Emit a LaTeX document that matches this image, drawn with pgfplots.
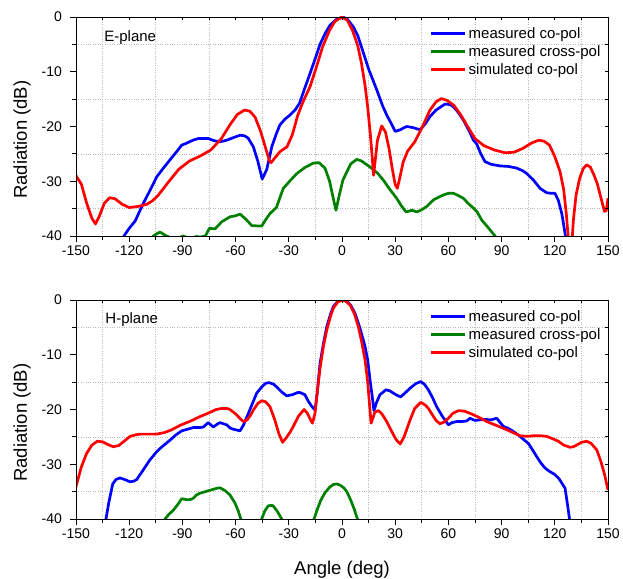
\documentclass[border=0pt]{standalone}
\usepackage{fontspec}
\setmainfont{Liberation Sans}
\usepackage{pgfplots}
\pgfplotsset{compat=1.18}
\definecolor{cblue}{RGB}{0,0,255}
\definecolor{cgreen}{RGB}{0,128,0}
\definecolor{cred}{RGB}{255,0,0}
\pgfplotsset{
  radbase/.style={
    scale only axis, width=532pt, height=219pt,
    xmin=-150, xmax=150, ymin=-40, ymax=0,
    xtick={-150,-120,...,150},
    ytick={-40,-30,...,0},
    minor xtick={-135,-105,...,135},
    minor ytick={-35,-25,-15,-5},
    axis line style={line width=0.8pt},
    every tick/.style={line width=0.8pt, black},
  },
  radmain/.style={
    radbase,
    xticklabels={-150,-120,-90,-60,-30,0,30,60,90,120,150},
    yticklabels={-40,-30,-20,-10,0},
    tick align=outside, xtick pos=left, ytick pos=left,
    major tick length=6pt, minor tick length=4pt,
    grid=minor,
    minor grid style={dotted, gray!55, line width=0.7pt},
    tick label style={font=\fontsize{14}{16}\selectfont},
    yticklabel style={xshift=-4.5pt},
    every axis y label/.style={at={([xshift=-54pt]rel axis cs:0,0.44)}, rotate=90, anchor=center,
      font=\fontsize{18.5}{21}\selectfont},
    ylabel={Radiation (dB)},
    legend style={draw=none, fill=none, at={(rel axis cs:0.665,0.962)}, anchor=north west,
      font=\fontsize{15}{17}\selectfont, row sep=1.6pt, inner sep=0pt, cells={anchor=west}},
    legend image code/.code={\draw[#1] (0pt,0pt) -- (34pt,0pt);},
    every axis plot/.append style={line width=2.7pt, line join=round},
  },
  radover/.style={
    radbase,
    xticklabels={}, yticklabels={},
    tick align=inside, xtick pos=right, ytick pos=right,
    major tick length=3pt, minor tick length=3pt,
  },
}
\begin{document}
\begin{tikzpicture}
\path[use as bounding box] (0,0) rectangle (623pt,578pt);
% ---------------- E-plane ----------------
\begin{axis}[radmain, at={(76pt,342pt)}, anchor=south west]
\addplot[cblue] coordinates {
(-127,-43) (-123,-40) (-120,-38.6) (-116.7,-37.3) (-112,-34.0) (-108,-31.5) (-104.5,-29.2)
(-100,-27.3) (-97,-26.1) (-93,-24.5) (-90.4,-23.4) (-88,-23.1) (-84,-22.5) (-81,-22.2)
(-78,-22.2) (-75.4,-22.2) (-72,-22.6) (-68.8,-22.8) (-65,-22.5) (-61,-22.0) (-57.5,-21.6)
(-55,-21.7) (-53,-22.1) (-50,-23.7) (-47.5,-26.3) (-45,-29.6) (-42.5,-27.9) (-41,-25.8)
(-39.6,-23.7) (-37,-21.3) (-35,-19.7) (-32,-18.6) (-29.3,-17.9) (-26.5,-17.0) (-24,-15.8)
(-21,-13) (-18,-10.3) (-15,-7.5) (-12.4,-5) (-9.5,-3) (-6.8,-1.5) (-3,-0.4) (0.5,0)
(3,-0.4) (6.4,-1.8) (9,-3.5) (12.1,-6.6) (15,-9.5) (19.6,-13.3) (23,-16.3) (25.2,-17.9)
(28,-19.6) (30,-20.9) (32.8,-20.6) (36.5,-20.0) (40,-20.2) (44,-20.6) (47,-19.5)
(49.6,-18.2) (53,-17.0) (58.1,-15.9) (61,-16.0) (62.8,-16.4) (65,-17.2) (68.4,-18.8)
(72,-21.0) (74.1,-22.5) (76,-23.2) (78,-24.8) (80.6,-26.4) (84,-26.9) (89.1,-27.2)
(94,-27.3) (98.5,-27.6) (102,-28.1) (104.2,-28.6) (108,-29.8) (111.7,-31.3) (115.4,-32.1)
(118,-32.2) (120.1,-32.2) (122,-33.5) (124,-36) (126,-40) (127,-43)
};
\addlegendentry{measured co-pol}
\addplot[cgreen] coordinates {
(-109,-42) (-106.4,-40) (-104,-39.5) (-102.6,-39.3) (-100,-39.8) (-98.9,-40) (-96,-40.4)
(-92,-40.3) (-89.5,-40) (-86,-40.5) (-82,-40.1) (-80,-40.2) (-77,-40) (-74.8,-38.6)
(-71.6,-38.7) (-67.8,-37.4) (-63.2,-36.5) (-60,-36.3) (-57.5,-36.0) (-54,-37) (-50.9,-38.1)
(-45.3,-38.2) (-43,-37) (-40.6,-35.9) (-37,-34.8) (-33.1,-31.3) (-29,-29.8) (-25.5,-28.6)
(-21,-27.5) (-16.2,-26.7) (-13,-26.6) (-9.6,-27.6) (-7,-30) (-5,-33) (-3.4,-35.3)
(-1.5,-32.5) (0.5,-29.8) (2.7,-28.3) (5,-26.8) (8.3,-26.0) (11,-26.3) (15.8,-27.4)
(20,-28.5) (23.3,-29.8) (27,-31.5) (30.8,-33.1) (33.5,-34.5) (36.1,-35.6) (39.5,-35.3)
(42.2,-35.6) (45,-35.2) (47.8,-34.6) (51.6,-33.4) (54,-33) (57.2,-32.5) (60,-32.2)
(62.8,-32.2) (65.5,-32.6) (68.4,-33.1) (71,-34) (74.1,-34.9) (76,-35.5) (78.8,-37.1)
(82,-38.3) (86.3,-40) (88,-42)
};
\addlegendentry{measured cross-pol}
\addplot[cred] coordinates {
(-150,-29.0) (-147,-30.5) (-144,-34) (-141,-36.8) (-139,-37.8) (-137,-36.5) (-134,-34)
(-131,-33.0) (-128,-33.2) (-124,-34.2) (-120,-34.8) (-115,-34.6) (-110,-34.2) (-107,-33.6)
(-104,-32.7) (-98,-30.2) (-92,-27.8) (-86,-26.3) (-80,-25.4) (-74,-24.3) (-68,-22.2)
(-63,-19.6) (-59,-17.8) (-55,-17.0) (-52,-17.2) (-49,-18.3) (-46,-20.8) (-43,-24.0)
(-41,-26.2) (-40,-26.6) (-38,-25.8) (-35,-24.6) (-31,-23.7) (-28,-21.5) (-25,-18)
(-22,-15.5) (-18,-12.7) (-14,-8.7) (-11,-5.5) (-7,-2.4) (-4,-0.8) (0,0) (3,-0.6)
(6,-2.5) (9,-5.4) (11,-8.5) (13,-12.5) (14.5,-16.5) (16,-21.5) (17,-25.5) (17.8,-28.9)
(18.8,-26) (20,-22.5) (22.4,-19.9) (24.5,-21) (26.5,-24) (28.5,-28) (30,-30.6)
(31.2,-31.3) (32.5,-29.5) (34.5,-26.5) (37,-24.5) (41,-22.8) (45,-20.3) (49.6,-17.0)
(53,-15.5) (56,-14.9) (59,-15.2) (63,-16.1) (67,-17.9) (71,-20.1) (75,-22.2) (80,-23.5)
(86,-24.3) (92,-24.8) (97,-24.7) (102,-24.0) (107,-23.0) (111,-22.5) (114,-22.7)
(117,-23.4) (120,-25.5) (123,-28.3) (125,-31.5) (126.5,-36) (127.5,-40) (128.3,-45)
(129.5,-42) (130.5,-37) (132,-32.5) (134,-29.5) (136,-27.7) (138,-27.0) (140,-27.4)
(142,-28.8) (144,-30.5) (146,-33) (148,-35.5) (149,-35.4) (150,-33.1)
};
\addlegendentry{simulated co-pol}
\node[anchor=west, inner sep=0pt, font=\fontsize{15}{17}\selectfont] at (rel axis cs:0.053,0.907) {E-plane};
\end{axis}
\begin{axis}[radover, at={(76pt,342pt)}, anchor=south west]
\end{axis}
% ---------------- H-plane ----------------
\begin{axis}[radmain, at={(76pt,59pt)}, anchor=south west,
  xlabel={Angle (deg)},
  every axis x label/.style={at={([yshift=-50.5pt]rel axis cs:0.5,0)}, anchor=center,
    font=\fontsize{18.5}{21}\selectfont}]
\addplot[cblue] coordinates {
(-134,-41) (-133.1,-40) (-131.5,-37) (-129.3,-33.6) (-127.5,-32.8) (-125.2,-32.5)
(-122.5,-32.8) (-119.5,-33.2) (-117.5,-33.1) (-115.8,-32.8) (-112,-31) (-108.3,-29.2)
(-105,-27.9) (-102.6,-27.1) (-97,-25.6) (-93.5,-24.6) (-90.4,-23.9) (-87,-23.6)
(-83.9,-23.3) (-80,-23.3) (-78.2,-23.2) (-75.4,-22.4) (-72.6,-23.2) (-70,-22.6)
(-68.8,-22.4) (-65,-22.8) (-63,-23.4) (-61.3,-23.6) (-57.5,-23.9) (-55.5,-22.8)
(-52.8,-20.7) (-50,-18.5) (-48.1,-17.0) (-45,-15.8) (-43,-15.2) (-41,-15.1) (-38.5,-15.4)
(-36.8,-15.9) (-34,-16.8) (-31.2,-17.5) (-28,-17.3) (-25,-16.9) (-23.7,-16.9)
(-20.9,-17.3) (-19,-18.5) (-17.1,-19.4) (-15.2,-20.1) (-14,-17) (-12.4,-11.6) (-10.5,-8)
(-8.6,-4.9) (-6.5,-2.6) (-4.9,-1.2) (-2.5,-0.3) (0,0) (2.7,-0.2) (5,-1) (7.3,-2.4)
(10,-5) (13,-8.5) (14.5,-11) (15.8,-14.6) (17,-17.5) (18.0,-20.2) (19.5,-18.7)
(21.4,-17.3) (24.8,-16.4) (27,-16.6) (28.9,-17.0) (31,-17.4) (33.1,-17.7) (35.5,-17.0)
(38.4,-16.1) (41.5,-15.3) (44.4,-14.9) (46.5,-15.4) (48.7,-16.4) (51,-17.8) (53.4,-19.5)
(56.5,-21.2) (60,-22.8) (62,-22.4) (64.7,-22.2) (67.5,-22.2) (70.3,-22.1) (72.2,-21.6)
(73.5,-21.8) (75,-22.0) (77.5,-21.9) (80.6,-21.8) (84,-21.9) (87.2,-21.6) (89,-22.3)
(91,-23.1) (93.5,-23.4) (96.6,-24.0) (100,-24.8) (102.5,-25.5) (105.1,-26.2)
(107.5,-27.4) (109.8,-28.6) (112,-29.7) (114.5,-30.7) (117,-31.3) (120.1,-31.9)
(122.5,-32.7) (125.8,-34.4) (127,-37) (128.3,-40) (128.8,-41.5)
};
\addlegendentry{measured co-pol}
\addplot[cgreen] coordinates {
(-101,-41) (-99.8,-40) (-97.5,-39.1) (-95.1,-38.4) (-92.5,-37.3) (-90.4,-36.3)
(-87.1,-36.5) (-85,-36.4) (-83.9,-36.2) (-82,-35.6) (-80.1,-35.3) (-75,-34.8)
(-70.7,-34.4) (-68.8,-34.3) (-66,-34.8) (-63.2,-35.6) (-60.5,-37) (-58.5,-38.5)
(-57.1,-40) (-56.5,-41) (-56,-45) (-46,-45)
(-45.8,-41) (-45.3,-40) (-43.5,-38.5) (-41.6,-37.6) (-40,-37.5) (-38.8,-37.6)
(-36.5,-38.6) (-34,-40) (-33.5,-41) (-33,-45) (-17,-45)
(-16.5,-41.5) (-15.8,-40) (-14,-38.3) (-12,-36.6) (-9.6,-35.2) (-7,-34.2) (-4.9,-33.7)
(-3,-33.6) (-1.2,-33.8) (1,-34.3) (2.7,-35.0) (5,-36.6) (7,-38.3) (8.7,-40) (9.5,-41.5)
};
\addlegendentry{measured cross-pol}
\addplot[cred] coordinates {
(-150,-34.1) (-147,-30.5) (-144,-28.0) (-141,-26.5) (-138,-25.8) (-135,-25.9)
(-132,-26.4) (-129,-26.8) (-126,-26.6) (-122.5,-25.7) (-119.5,-24.9) (-116,-24.6)
(-113.9,-24.5) (-108,-24.5) (-104.5,-24.5) (-100,-24.2) (-96,-23.7) (-91.4,-22.9)
(-86,-22.2) (-80.1,-21.3) (-75,-20.6) (-71,-20.0) (-67.8,-19.8) (-65,-19.8) (-63.2,-20.0)
(-60,-20.8) (-57,-21.8) (-55.6,-22.2) (-53.5,-21.9) (-51.5,-21) (-50,-20.1) (-47.5,-18.9)
(-45.3,-18.4) (-43,-18.6) (-40.6,-19.5) (-38,-21.8) (-35.5,-24.5) (-33.5,-26.0)
(-31.5,-25.2) (-29,-24) (-27.5,-23.1) (-24.5,-21.2) (-21.4,-20.0) (-19.5,-20.7)
(-18,-21.7) (-16.7,-22.5) (-15.2,-20.7) (-14,-17) (-12.4,-12.5) (-10.5,-8.5) (-8.6,-5.5)
(-6.5,-3.0) (-4.9,-1.5) (-2.5,-0.4) (0,0) (2,-0.2) (4.5,-0.9) (7,-2.5) (9.2,-4.9)
(11,-7.5) (13,-10.96) (14.5,-15) (15.5,-19) (16.4,-22.5) (17.5,-21.5) (18.5,-20.5)
(20.5,-20.2) (22.5,-20.8) (25.2,-22.2) (28,-24) (30.5,-25.5) (32.8,-26.3) (35,-25)
(38.4,-21.9) (41,-19.8) (44.4,-18.7) (47,-19.2) (48.7,-19.8) (51,-21) (53,-22)
(55.3,-22.6) (57.5,-22.3) (60,-21.6) (62.5,-20.7) (65.6,-20.2) (69,-20.3) (72.2,-20.7)
(77,-21.4) (81.6,-22.2) (87,-22.9) (92.9,-23.7) (97,-24.3) (100.4,-24.8) (104,-24.9)
(107.9,-24.8) (112,-24.8) (115.4,-24.9) (118.5,-25.3) (122,-25.8) (125,-26.5)
(128.6,-26.9) (130.5,-26.8) (132.3,-26.5) (135,-26) (138,-25.8) (140.5,-26.2)
(143.7,-27.4) (146,-29.5) (148,-31.8) (150,-34.7)
};
\addlegendentry{simulated co-pol}
\node[anchor=west, inner sep=0pt, font=\fontsize{15}{17}\selectfont] at (rel axis cs:0.055,0.912) {H-plane};
\end{axis}
\begin{axis}[radover, at={(76pt,59pt)}, anchor=south west]
\end{axis}
\end{tikzpicture}
\end{document}
